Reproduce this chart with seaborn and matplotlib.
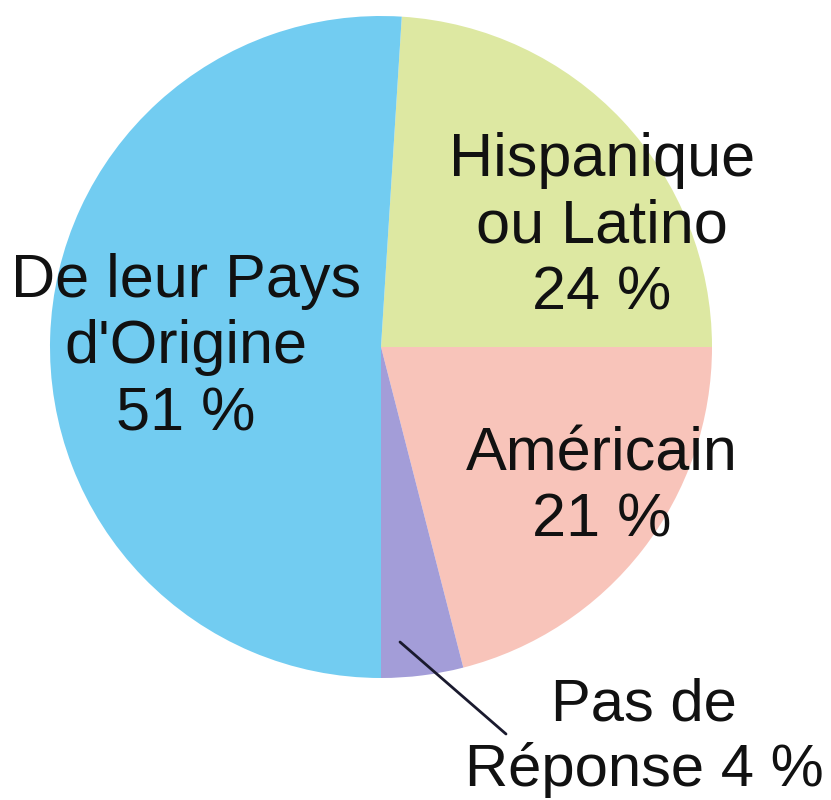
import matplotlib
matplotlib.use("Agg")
import matplotlib.pyplot as plt
import seaborn as sns

# Survey answers, in clockwise order starting near 12 o'clock
categories = ["Hispanique\nou Latino", "Américain", "Pas de\nRéponse", "De leur Pays\nd'Origine"]
shares = [24, 21, 4, 51]
colors = ["#DDE8A2", "#F8C4BA", "#A39DD8", "#72CCF1"]

sns.set_theme(style="white")
plt.rcParams["font.family"] = ["Liberation Sans", "DejaVu Sans"]

W, H = 831, 800
fig = plt.figure(figsize=(W / 100, H / 100), dpi=100)
ax = fig.add_axes([0, 0, 1, 1])

# Place the end of the "no answer" slice straight down at 6 o'clock
startangle = -90 + sum(shares[:3]) * 3.6
cx, cy, r = 381, H - 347, 331
ax.pie(shares, colors=colors, startangle=startangle, counterclock=False,
       center=(cx, cy), radius=r, wedgeprops=dict(linewidth=0), frame=True)
ax.set_xlim(0, W)
ax.set_ylim(0, H)
ax.set_aspect("equal")
ax.axis("off")

fs = 44
ls = 1.22
txt = dict(ha="center", va="center", fontsize=fs, linespacing=ls, color="#111111")
ax.text(186, H - 348, f"De leur Pays\nd'Origine\n{shares[3]} %", **txt)
ax.text(602, H - 227, f"Hispanique\nou Latino\n{shares[0]} %", **txt)
ax.text(602, H - 488, f"Américain\n{shares[1]} %", **txt)
ax.text(644, H - 738, f"Pas de\nRéponse {shares[2]} %", **dict(txt, fontsize=43))
ax.plot([400, 506], [H - 642, H - 734], color="#1a1a2e", linewidth=2)

fig.savefig("out.png", dpi=100)
